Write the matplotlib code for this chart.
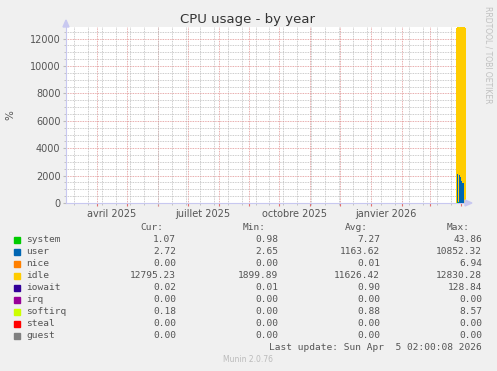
import datetime as dt
import matplotlib
matplotlib.use("Agg")
import matplotlib.pyplot as plt
import matplotlib.dates as mdates
import numpy as np

# %%
# data (daily values, %), stacked like munin's cpu plugin
days = [dt.datetime(2026, 3, 27) + dt.timedelta(days=i) for i in range(10)]
system  = [5, 44, 6, 30, 25, 20, 18, 16, 2, 1]
user    = [0, 2050, 90, 1980, 1850, 1620, 1470, 1450, 3, 3]
nice    = [0, 0, 0, 0, 0, 0, 0, 0, 0, 0]
idle    = [12800, 10720, 12720, 10800, 10940, 11180, 11330, 11350, 12810, 12795]
iowait  = [0, 4, 1, 1, 1, 1, 1, 1, 0, 0]
irq     = [0, 0, 0, 0, 0, 0, 0, 0, 0, 0]
softirq = [8, 8, 8, 8, 8, 8, 8, 8, 1, 1]
steal   = [0, 0, 0, 0, 0, 0, 0, 0, 0, 0]
guest   = [0, 0, 0, 0, 0, 0, 0, 0, 0, 0]

names  = ["system", "user", "nice", "idle", "iowait", "irq", "softirq", "steal", "guest"]
colors = ["#00CC00", "#0066B3", "#FF8000", "#FFCC00", "#330099",
          "#990099", "#CCFF00", "#FF0000", "#808080"]
cur = ["1.07", "2.72", "0.00", "12795.23", "0.02", "0.00", "0.18", "0.00", "0.00"]
mn  = ["0.98", "2.65", "0.00", "1899.89", "0.01", "0.00", "0.00", "0.00", "0.00"]
avg = ["7.27", "1163.62", "0.01", "11626.42", "0.90", "0.00", "0.88", "0.00", "0.00"]
mx  = ["43.86", "10852.32", "6.94", "12830.28", "128.84", "0.00", "8.57", "0.00", "0.00"]

x_start = dt.datetime(2025, 3, 1, 2)
x_end = dt.datetime(2026, 4, 5, 2)
month_labels = ["avril 2025", "juillet 2025", "octobre 2025", "janvier 2026"]
label_dates = [dt.datetime(2025, 4, 16), dt.datetime(2025, 7, 16),
               dt.datetime(2025, 10, 16), dt.datetime(2026, 1, 16)]

# %%
W, H = 497, 371
fig = plt.figure(figsize=(W / 100, H / 100), dpi=100, facecolor="#F0F0F0")
ax = fig.add_axes([66 / W, 1 - 203 / H, 399 / W, 176 / H], facecolor="white")

series = [system, user, nice, idle, iowait, irq, softirq, steal, guest]
base = np.zeros(len(days))
xd = days + [days[-1] + dt.timedelta(days=1)]
for vals, col in zip(series, colors):
    v = np.array(vals, dtype=float)
    top = base + v
    ax.fill_between(xd, list(base) + [base[-1]], list(top) + [top[-1]],
                    step="post", color=col, linewidth=0, zorder=3)
    base = top

ax.set_xlim(x_start, x_end)
ax.set_ylim(0, 12850)

# grid
ax.yaxis.set_major_locator(plt.MultipleLocator(2000))
ax.yaxis.set_minor_locator(plt.MultipleLocator(500))
ax.xaxis.set_major_locator(mdates.MonthLocator())
ax.xaxis.set_minor_locator(mdates.RRuleLocator(
    mdates.rrulewrapper(mdates.DAILY, interval=14, dtstart=dt.datetime(2025, 3, 9))))
ax.grid(which="minor", color="#BBBBBB", linestyle=(0, (1, 1)), linewidth=0.6, zorder=1)
ax.grid(which="major", color="#E09090", linestyle=(0, (1, 1)), linewidth=0.6, zorder=2)
ax.set_axisbelow(True)

ax.set_xticklabels([])
ax.tick_params(which="major", axis="x", length=2, color="#E07070", labelbottom=False)
ax.tick_params(which="minor", axis="x", length=1.5, color="#BBBBBB")
ax.tick_params(which="major", axis="y", length=2, color="#BBBBBB",
               labelsize=7, labelcolor="#555555", pad=2)
ax.tick_params(which="minor", axis="y", length=1.5, color="#BBBBBB")
ax.yaxis.set_major_formatter(plt.FuncFormatter(lambda v, p: "%d" % v))

for d, lab in zip(label_dates, month_labels):
    ax.text(d, -420, lab, ha="center", va="top", fontsize=7, color="#555555")

for s in ["top", "right"]:
    ax.spines[s].set_visible(False)
for s in ["left", "bottom"]:
    ax.spines[s].set_color("#C8C8F0")
    ax.spines[s].set_linewidth(0.8)

# axis arrows
fig.patches.append(plt.Polygon([[66 / W, 1 - 20 / H], [63 / W, 1 - 27 / H], [69 / W, 1 - 27 / H]],
                               closed=True, color="#C8C8F0", transform=fig.transFigure))
fig.patches.append(plt.Polygon([[472 / W, 1 - 203 / H], [465 / W, 1 - 200 / H], [465 / W, 1 - 206 / H]],
                               closed=True, color="#C8C8F0", transform=fig.transFigure))

fig.text(248 / W, 1 - 19 / H, "CPU usage - by year", ha="center", va="center",
         fontsize=9.5, color="#333333")
fig.text(10 / W, 1 - 115 / H, "%", ha="center", va="center", rotation=90,
         fontsize=7.5, color="#555555")
fig.text(488 / W, 1 - 6 / H, "RRDTOOL / TOBI OETIKER", ha="center", va="top",
         rotation=270, fontsize=5.5, color="#C0C0C0")

# legend table
mono = "DejaVu Sans Mono"
fs = 6.8
tc = "#555555"
for txt, xr in zip(["Cur:", "Min:", "Avg:", "Max:"], [163, 266, 368, 470]):
    fig.text(xr / W, 1 - 227 / H, txt, ha="right", va="center", family=mono, fontsize=fs, color=tc)
for i, name in enumerate(names):
    y = 240 + 12 * i
    fig.patches.append(plt.Rectangle((14 / W, 1 - (y + 3) / H), 6 / W, 6 / H,
                                     color=colors[i], transform=fig.transFigure))
    fig.text(26 / W, 1 - y / H, name, ha="left", va="center", family=mono, fontsize=fs, color=tc)
    for vals, xr in zip([cur, mn, avg, mx], [176, 278, 380, 482]):
        fig.text(xr / W, 1 - y / H, vals[i], ha="right", va="center", family=mono, fontsize=fs, color=tc)

fig.text(482 / W, 1 - 348 / H, "Last update: Sun Apr  5 02:00:08 2026", ha="right", va="center",
         family=mono, fontsize=fs, color=tc)
fig.text(248 / W, 1 - 360 / H, "Munin 2.0.76", ha="center", va="center",
         fontsize=5.5, color="#BBBBBB")

fig.savefig("out.png", dpi=100, facecolor=fig.get_facecolor())
